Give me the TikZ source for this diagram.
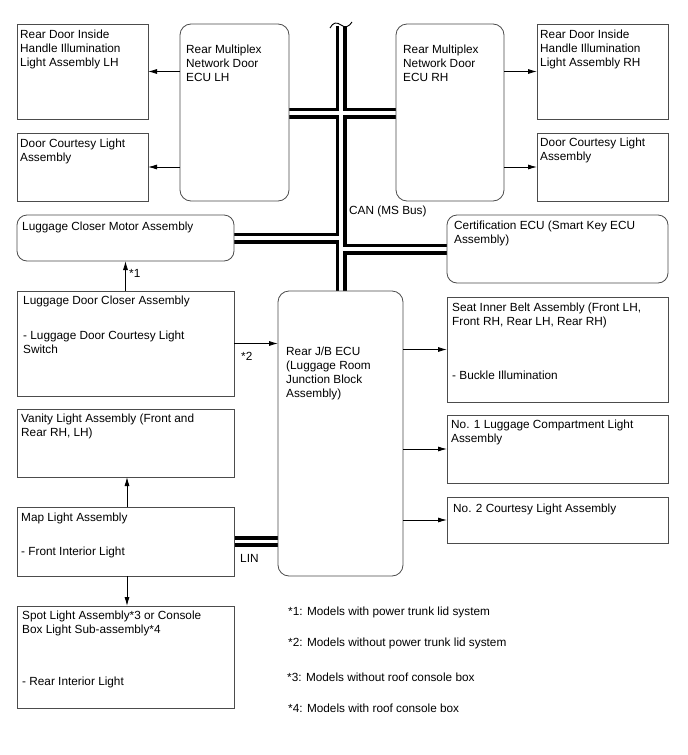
\documentclass[tikz,border=0pt]{standalone}
\usepackage{fontspec}
\setmainfont{Liberation Sans}
\usetikzlibrary{arrows.meta,backgrounds}
\newcommand\mkbox[6]{%
  \node[#6, anchor=north west, minimum width={#4-#2}, minimum height={#5-#3}] (#1) at (#2,#3) {};}
\begin{document}
\begin{tikzpicture}[x=1pt,y=-1pt,
  bx/.style={draw=black!70, line width=0.8pt, fill=white, inner sep=0pt, outer sep=0pt},
  rbx/.style={bx, rounded corners=11pt},
  txt/.style={anchor=north west, inner sep=0pt, align=left, font=\fontsize{11.8}{14}\selectfont},
  lbl/.style={anchor=west, inner sep=0pt, font=\fontsize{11.8}{14}\selectfont},
  arr/.style={draw=black, line width=0.8pt, -{Latex[length=9pt,width=5pt]}},
  busb/.style={draw=black, line width=11pt},
  busw/.style={draw=white, line width=3.3pt}]
\useasboundingbox (0,0) rectangle (688,755);

% boxes
\mkbox{rdl}{17}{24}{148}{119}{bx}
\mkbox{dcl}{17}{133}{148}{201}{bx}
\mkbox{ecul}{180}{24}{289}{201}{rbx}
\mkbox{ecur}{396}{24}{504}{201}{rbx}
\mkbox{rdr}{537}{24}{668}{119}{bx}
\mkbox{dcr}{537}{133}{668}{201}{bx}
\mkbox{lcm}{17}{215}{234}{261}{bx, rounded corners=10pt}
\mkbox{cert}{447}{215}{668}{283}{bx, rounded corners=10pt}
\mkbox{ldc}{17}{291}{234}{396}{bx}
\mkbox{jb}{278}{291}{403}{576}{rbx}
\mkbox{seat}{447}{297}{668}{402}{bx}
\mkbox{noa}{447}{415}{668}{483}{bx}
\mkbox{nob}{447}{497}{668}{543}{bx}
\mkbox{van}{17}{409}{234}{477}{bx}
\mkbox{map}{17}{507}{234}{576}{bx}
\mkbox{spot}{17}{606}{234}{708}{bx}

% texts
\node[txt] (t-rdl) at ([shift={(3,6)}]rdl.north west) {Rear Door Inside\\Handle Illumination\\Light Assembly LH};
\node[txt] (t-dcl) at ([shift={(3,6)}]dcl.north west) {Door Courtesy Light\\Assembly};
\node[txt] (t-ecul) at ([shift={(6,21)}]ecul.north west) {Rear Multiplex\\Network Door\\ECU LH};
\node[txt] (t-ecur) at ([shift={(7,21)}]ecur.north west) {Rear Multiplex\\Network Door\\ECU RH};
\node[txt] (t-rdr) at ([shift={(3,6)}]rdr.north west) {Rear Door Inside\\Handle Illumination\\Light Assembly RH};
\node[txt] (t-dcr) at ([shift={(3,5)}]dcr.north west) {Door Courtesy Light\\Assembly};
\node[txt] (t-lcm) at ([shift={(5,7)}]lcm.north west) {Luggage Closer Motor Assembly};
\node[txt] (t-cert) at ([shift={(7,6)}]cert.north west) {Certification ECU (Smart Key ECU\\Assembly)};
\node[txt] (t-ldc) at ([shift={(6,5)}]ldc.north west) {Luggage Door Closer Assembly\\[21pt]- Luggage Door Courtesy Light\\Switch};
\node[txt] (t-jb) at ([shift={(8,56)}]jb.north west) {Rear J/B ECU\\(Luggage Room\\Junction Block\\Assembly)};
\node[txt] (t-seat) at ([shift={(5,6)}]seat.north west) {Seat Inner Belt Assembly (Front LH,\\Front RH, Rear LH, Rear RH)\\[40pt]- Buckle Illumination};
\node[txt] (t-noa) at ([shift={(4,5)}]noa.north west) {No. 1 Luggage Compartment Light\\Assembly};
\node[txt] (t-nob) at ([shift={(6,7)}]nob.north west) {No. 2 Courtesy Light Assembly};
\node[txt] (t-van) at ([shift={(4,5)}]van.north west) {Vanity Light Assembly (Front and\\Rear RH, LH)};
\node[txt] (t-map) at ([shift={(4,6)}]map.north west) {Map Light Assembly\\[20pt]- Front Interior Light};
\node[txt] (t-spot) at ([shift={(5,5)}]spot.north west) {Spot Light Assembly*3 or Console\\Box Light Sub-assembly*4\\[38pt]- Rear Interior Light};

% bus coordinates
\coordinate (btop) at (341,26);
\coordinate (bx1) at (341,113);
\begin{scope}[on background layer]
  \fill[white] (0,0) rectangle (688,755);
  \draw[busb] (btop) -- (btop |- jb.north);
  \draw[busb] (ecul.east |- bx1) -- (ecur.west |- bx1);
  \draw[busb] (lcm.east) -- (lcm.east -| btop);
  \draw[busb] (cert.west) -- (cert.west -| btop);
  \draw[busb] (map.east) -- (map.east -| jb.west);
  \draw[busw] (btop) -- (btop |- jb.north);
  \draw[busw] (ecul.east |- bx1) -- (ecur.west |- bx1);
  \draw[busw] (lcm.east) -- (lcm.east -| btop);
  \draw[busw] (cert.west) -- (cert.west -| btop);
  \draw[busw] (map.east) -- (map.east -| jb.west);
\end{scope}
% break mark at top of bus
\draw[line width=0.9pt] (330,28) .. controls (333,22) and (337,22) .. (341,25) .. controls (345,28) and (349,27) .. (352,22);

% arrows
\draw[arr] (ecul.west |- rdl.east) -- (rdl.east);
\draw[arr] (ecul.west |- dcl.east) -- (dcl.east);
\draw[arr] (ecur.east |- rdr.west) -- (rdr.west);
\draw[arr] (ecur.east |- dcr.west) -- (dcr.west);
\draw[arr] (ldc.north) -- (lcm.south);
\draw[arr] (ldc.east) -- (ldc.east -| jb.west);
\draw[arr] (jb.east |- seat.west) -- (seat.west);
\draw[arr] (jb.east |- noa.west) -- (noa.west);
\draw[arr] (jb.east |- nob.west) -- (nob.west);
\draw[arr] ([xshift=1.5pt]map.north) -- ([xshift=1.5pt]van.south);
\draw[arr] ([xshift=1.5pt]map.south) -- ([xshift=1.5pt]spot.north);

% labels
\node[lbl] (can) at (349,211) {CAN (MS Bus)};
\node[lbl] (lin) at (240,558) {LIN};
\node[lbl] (n1) at (129,273) {*1};
\node[lbl] (n2) at (241,356) {*2};
\node[lbl] (f1) at (288,612) {*1: Models with power trunk lid system};
\node[lbl] (f2) at (288,643) {*2: Models without power trunk lid system};
\node[lbl] (f3) at (287,677) {*3: Models without roof console box};
\node[lbl] (f4) at (288,708) {*4: Models with roof console box};
\end{tikzpicture}
\end{document}
